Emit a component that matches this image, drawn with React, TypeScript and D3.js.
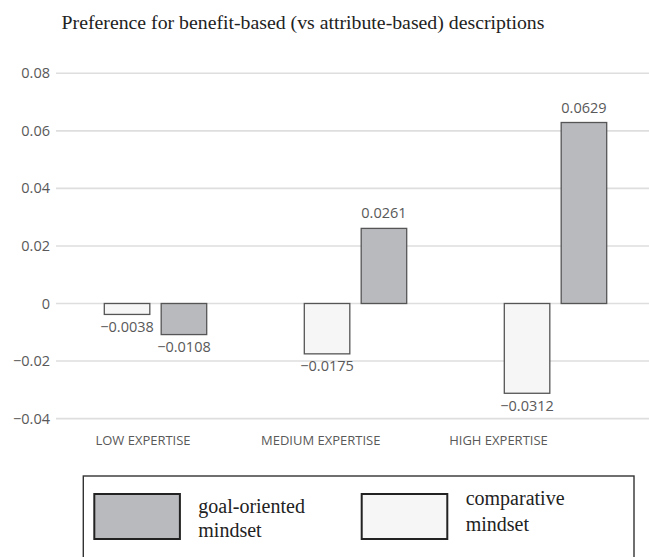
import React from "react";
import * as d3 from "d3";

const categories = ["LOW EXPERTISE", "MEDIUM EXPERTISE", "HIGH EXPERTISE"];
const seriesKeys = ["comparative", "goal"];
const comparativeValues = [-0.0038, -0.0175, -0.0312];
const goalValues = [-0.0108, 0.0261, 0.0629];
const yTicks = [-0.04, -0.02, 0, 0.02, 0.04, 0.06, 0.08];
const legendItems = [
  { key: "goal", lines: ["goal-oriented", "mindset"] },
  { key: "comparative", lines: ["comparative", "mindset"] },
];
const title = "Preference for benefit-based (vs attribute-based) descriptions";

const W = 649;
const H = 557;
const fills: Record<string, string> = { goal: "#b9babd", comparative: "#f6f6f6" };
const textColor = "#595959";
const sans = "'Open Sans', 'Noto Sans', sans-serif";
const serif = "'Liberation Serif', 'Times New Roman', serif";

function fmt(v: number) {
  const s = Math.abs(v).toFixed(4);
  return v < 0 ? "\u2212" + s : s;
}

export default function App() {
  const y = d3.scaleLinear().domain([-0.04, 0.08]).range([418.6, 73.3]);
  const x = d3.scaleBand<string>().domain(categories).range([55.5, 655.5]).padding(0);
  const xi = d3.scaleBand<string>().domain(seriesKeys).range([48.8, 151.2]).paddingInner(0.2).paddingOuter(0);
  const xl = d3.scalePoint<string>().domain(categories).range([143, 498.5]);

  const data = categories.map((c, i) => ({
    cat: c,
    vals: [
      { key: "comparative", v: comparativeValues[i] },
      { key: "goal", v: goalValues[i] },
    ],
  }));

  const legendSwatchX: Record<string, number> = { goal: 94.3, comparative: 361.7 };
  const legendTextY: Record<string, number[]> = { goal: [513, 537], comparative: [505, 531] };

  return (
    <svg width={W} height={H} style={{ position: "absolute", left: 0, top: 0, background: "#fff" }}>
      <rect x={0} y={0} width={W} height={H} fill="#fff" />
      <text x={303} y={29} textAnchor="middle" fontFamily={serif} fontSize={19.8} fill="#222">
        {title}
      </text>
      {yTicks.map((t) => (
        <g key={t}>
          <line x1={56} x2={W} y1={y(t)} y2={y(t)} stroke="#dedede" strokeWidth={1.6} />
          <text x={50} y={y(t)} dy="0.35em" textAnchor="end" fontFamily={sans} fontSize={14.5} fill={textColor}>
            {t === 0 ? "0" : fmt(t).replace(/0+$/, "")}
          </text>
        </g>
      ))}
      {data.map((d) => (
        <g key={d.cat}>
          {d.vals.map((s) => {
            const bx = (x(d.cat) as number) + (xi(s.key) as number);
            const bw = xi.bandwidth();
            const y0 = y(0);
            const y1 = y(s.v);
            const top = Math.min(y0, y1);
            const h = Math.abs(y1 - y0);
            return (
              <g key={s.key}>
                <rect x={bx} y={top} width={bw} height={h} fill={fills[s.key]} stroke="#555" strokeWidth={1.3} />
                <text
                  x={bx + bw / 2}
                  y={s.v >= 0 ? y1 - 10 : y1 + 17.5}
                  textAnchor="middle"
                  fontFamily={sans}
                  fontSize={14.5}
                  fill={textColor}
                >
                  {fmt(s.v)}
                </text>
              </g>
            );
          })}
          <text x={xl(d.cat)} y={445} textAnchor="middle" fontFamily={sans} fontSize={13} fill={textColor}>
            {d.cat}
          </text>
        </g>
      ))}
      <rect x={83.3} y={476} width={550.7} height={100} fill="none" stroke="#333" strokeWidth={1.4} />
      {legendItems.map((l) => (
        <g key={l.key}>
          <rect
            x={legendSwatchX[l.key]}
            y={494}
            width={85.6}
            height={45}
            fill={fills[l.key]}
            stroke="#222"
            strokeWidth={2}
          />
          {l.lines.map((ln, i) => (
            <text
              key={i}
              x={legendSwatchX[l.key] + 104}
              y={legendTextY[l.key][i]}
              fontFamily={serif}
              fontSize={20}
              fill="#222"
            >
              {ln}
            </text>
          ))}
        </g>
      ))}
    </svg>
  );
}
